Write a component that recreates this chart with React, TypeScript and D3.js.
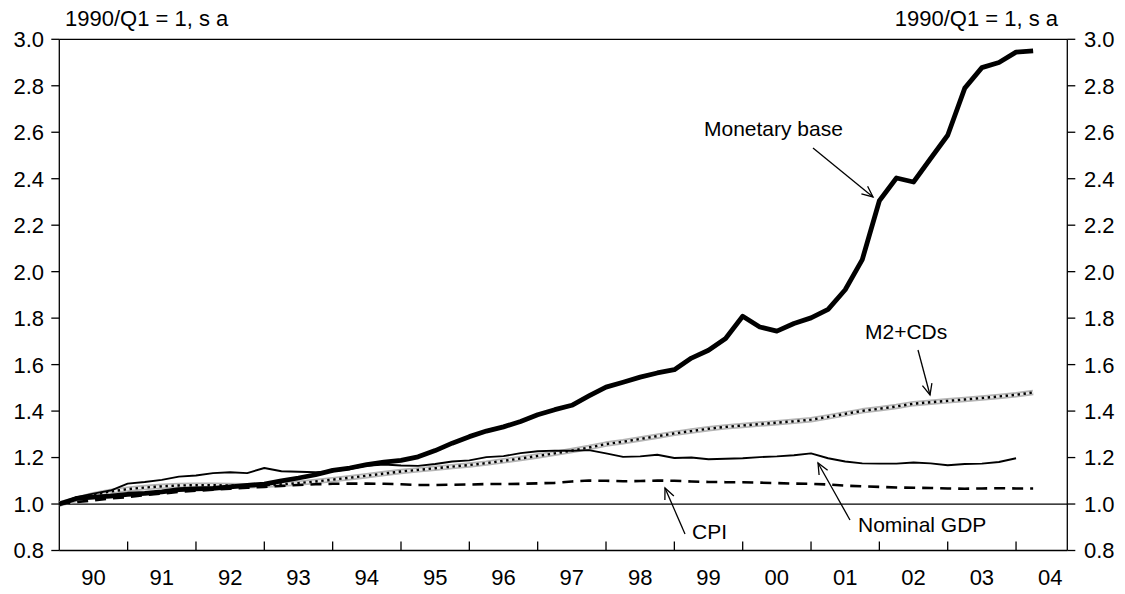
import React from "react";
import * as d3 from "d3";

const START_YEAR = 1990;
const yearLabels = ["90","91","92","93","94","95","96","97","98","99","00","01","02","03","04"];
const yTicks = [0.8, 1.0, 1.2, 1.4, 1.6, 1.8, 2.0, 2.2, 2.4, 2.6, 2.8, 3.0];

const monetaryBase = [
  1.000, 1.024, 1.030, 1.034, 1.042, 1.046, 1.052, 1.062, 1.065, 1.067,
  1.074, 1.080, 1.086, 1.100, 1.112, 1.126, 1.145, 1.155, 1.170, 1.180,
  1.188, 1.203, 1.230, 1.262, 1.290, 1.314, 1.332, 1.355, 1.384, 1.406,
  1.425, 1.465, 1.503, 1.524, 1.546, 1.564, 1.578, 1.628, 1.662, 1.712,
  1.808, 1.762, 1.744, 1.777, 1.801, 1.838, 1.922, 2.052, 2.305, 2.403,
  2.386, 2.487, 2.587, 2.790, 2.878, 2.900, 2.945, 2.950,
];

const m2cds = [
  1.000, 1.020, 1.040, 1.054, 1.064, 1.071, 1.076, 1.080, 1.081, 1.081,
  1.080, 1.079, 1.081, 1.085, 1.090, 1.097, 1.105, 1.113, 1.122, 1.131,
  1.140, 1.147, 1.154, 1.161, 1.168, 1.176, 1.186, 1.196, 1.207, 1.218,
  1.230, 1.243, 1.258, 1.268, 1.280, 1.292, 1.304, 1.314, 1.324, 1.332,
  1.338, 1.344, 1.350, 1.356, 1.363, 1.375, 1.388, 1.401, 1.410, 1.420,
  1.432, 1.438, 1.444, 1.450, 1.456, 1.463, 1.470, 1.480,
];

const nominalGDP = [
  1.000, 1.030, 1.045, 1.058, 1.088, 1.095, 1.104, 1.118, 1.123, 1.133,
  1.137, 1.133, 1.155, 1.141, 1.139, 1.137, 1.141, 1.150, 1.165, 1.170,
  1.166, 1.164, 1.172, 1.183, 1.188, 1.202, 1.206, 1.219, 1.227, 1.230,
  1.229, 1.232, 1.218, 1.203, 1.205, 1.212, 1.198, 1.200, 1.193, 1.195,
  1.197, 1.202, 1.205, 1.210, 1.218, 1.197, 1.183, 1.175, 1.174, 1.174,
  1.179, 1.175, 1.167, 1.172, 1.174, 1.181, 1.197,
];

const cpi = [
  1.000, 1.008, 1.016, 1.024, 1.030, 1.038, 1.045, 1.052, 1.057, 1.062,
  1.066, 1.070, 1.074, 1.078, 1.082, 1.085, 1.087, 1.088, 1.088, 1.087,
  1.085, 1.082, 1.082, 1.083, 1.084, 1.086, 1.086, 1.087, 1.089, 1.091,
  1.097, 1.101, 1.100, 1.098, 1.099, 1.101, 1.100, 1.097, 1.095, 1.094,
  1.094, 1.092, 1.090, 1.088, 1.087, 1.084, 1.079, 1.076, 1.074, 1.071,
  1.070, 1.069, 1.067, 1.066, 1.067, 1.068, 1.067, 1.067,
];

const W = 1125;
const H = 594;
const L = 59.3;
const R = 1067.3;
const T = 39.3;
const B = 550.5;
const FONT = "'Liberation Sans', Arial, Helvetica, sans-serif";

const x = d3.scaleLinear().domain([1990, 2004.75]).range([L, R]);
const y = d3.scaleLinear().domain([0.8, 3.0]).range([B, T]);

const toPts = (arr: number[]) => arr.map((v, i) => [START_YEAR + i / 4, v] as [number, number]);
const line = d3.line<[number, number]>().x((d) => x(d[0])).y((d) => y(d[1])).curve(d3.curveLinear);

function Arrow({ x1, y1, x2, y2 }: { x1: number; y1: number; x2: number; y2: number }) {
  const ang = Math.atan2(y2 - y1, x2 - x1);
  const len = 12;
  const spread = 0.42;
  const a1 = ang + Math.PI - spread;
  const a2 = ang + Math.PI + spread;
  const p1 = [x2 + len * Math.cos(a1), y2 + len * Math.sin(a1)];
  const p2 = [x2 + len * Math.cos(a2), y2 + len * Math.sin(a2)];
  return (
    <g stroke="#000" strokeWidth={1.3} fill="none">
      <line x1={x1} y1={y1} x2={x2} y2={y2} />
      <polyline points={`${p1[0]},${p1[1]} ${x2},${y2} ${p2[0]},${p2[1]}`} />
    </g>
  );
}

export default function App() {
  const years = d3.range(1991, 2005);
  const m2Path = line(toPts(m2cds)) || "";
  return (
    <svg
      width={W}
      height={H}
      viewBox={`0 0 ${W} ${H}`}
      style={{ position: "absolute", left: 0, top: 0, background: "#fff" }}
      fontFamily={FONT}
    >
      <rect x={0} y={0} width={W} height={H} fill="#fff" />
      {/* frame */}
      <line x1={L} y1={T} x2={R} y2={T} stroke="#000" strokeWidth={1.3} />
      <line x1={L} y1={T} x2={L} y2={B} stroke="#000" strokeWidth={1.3} />
      <line x1={R} y1={T} x2={R} y2={B} stroke="#000" strokeWidth={1.3} />
      <line x1={L} y1={B} x2={R} y2={B} stroke="#000" strokeWidth={1.3} />
      <line x1={L} y1={y(1.0)} x2={R} y2={y(1.0)} stroke="#000" strokeWidth={1.3} />

      {/* y ticks */}
      {yTicks.map((t) => (
        <g key={"yt" + t}>
          <line x1={L - 8} x2={L} y1={y(t)} y2={y(t)} stroke="#000" strokeWidth={1.3} />
          <line x1={R} x2={R + 8} y1={y(t)} y2={y(t)} stroke="#000" strokeWidth={1.3} />
          <text x={44} y={y(t)} dy="0.36em" textAnchor="end" fontSize={22} fill="#000">
            {t.toFixed(1)}
          </text>
          <text x={1084} y={y(t)} dy="0.36em" textAnchor="start" fontSize={22} fill="#000">
            {t.toFixed(1)}
          </text>
        </g>
      ))}

      {/* x ticks */}
      {years.map((yr) => (
        <line key={"xt" + yr} x1={x(yr)} x2={x(yr)} y1={B} y2={B - 9} stroke="#000" strokeWidth={1.3} />
      ))}
      {yearLabels.map((lab, i) => (
        <text key={"xl" + lab} x={x(START_YEAR + i + 0.5)} y={585} textAnchor="middle" fontSize={22} fill="#000">
          {lab}
        </text>
      ))}

      {/* axis titles */}
      <text x={65} y={26} fontSize={22} fill="#000">1990/Q1 = 1, s a</text>
      <text x={1058} y={26} fontSize={22} textAnchor="end" fill="#000">1990/Q1 = 1, s a</text>

      {/* series */}
      <path d={m2Path} fill="none" stroke="#b4b4b4" strokeWidth={5.5} strokeLinejoin="round" />
      <path d={m2Path} fill="none" stroke="#ececec" strokeWidth={2.2} />
      <path d={m2Path} fill="none" stroke="#000" strokeWidth={2.4} strokeDasharray="2.4,3.6" />
      <path
        d={line(toPts(cpi)) || ""}
        fill="none"
        stroke="#000"
        strokeWidth={2.6}
        strokeDasharray="11,7"
      />
      <path
        d={line(toPts(nominalGDP)) || ""}
        fill="none"
        stroke="#000"
        strokeWidth={1.9}
        strokeLinejoin="round"
      />
      <path
        d={line(toPts(monetaryBase)) || ""}
        fill="none"
        stroke="#000"
        strokeWidth={4.8}
        strokeLinejoin="round"
      />

      {/* annotations */}
      <text x={704} y={136} fontSize={21} fill="#000">Monetary base</text>
      <Arrow x1={813} y1={148} x2={873} y2={197} />
      <text x={865} y={339} fontSize={21} fill="#000">M2+CDs</text>
      <Arrow x1={918} y1={350} x2={930} y2={395} />
      <text x={858} y={532} fontSize={21} fill="#000">Nominal GDP</text>
      <Arrow x1={850} y1={520} x2={818} y2={463} />
      <text x={692} y={539} fontSize={21} fill="#000">CPI</text>
      <Arrow x1={685} y1={534} x2={665} y2={488} />
    </svg>
  );
}
